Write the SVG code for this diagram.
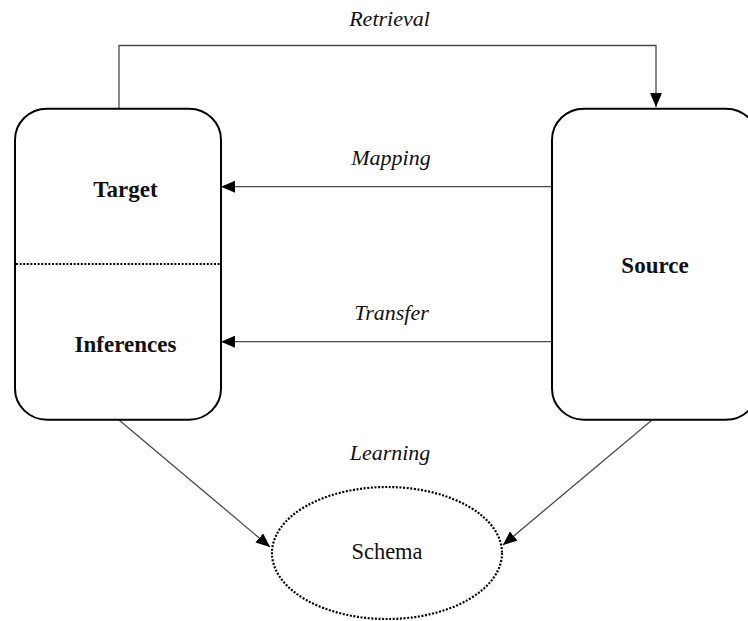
<svg xmlns="http://www.w3.org/2000/svg" width="748" height="621" viewBox="0 0 748 621">
  <style>
    .box { fill: #ffffff; stroke: #000000; stroke-width: 2; }
    .dotted { fill: none; stroke: #000000; stroke-width: 2.2; stroke-dasharray: 2 1.6; }
    .conn { fill: none; stroke: #4a4a4a; stroke-width: 1.3; }
    text { font-family: 'Liberation Serif', 'Times New Roman', Times, serif; font-size: 22px; fill: #111111; text-anchor: middle; }
    .title { font-weight: bold; font-size: 23px; }
    .label { font-style: italic; }
    .plain { font-size: 22.5px; }
  </style>
  <defs>
    <marker id="arrow" viewBox="0 0 14 12" refX="14" refY="6" markerWidth="14" markerHeight="12" markerUnits="userSpaceOnUse" orient="auto">
      <path d="M0,0 L14,6 L0,12 z" fill="#000000"/>
    </marker>
  </defs>
  <rect width="748" height="621" fill="#ffffff"/>

  <!-- connectors: retrieval, mapping, transfer, learning -->
  <g id="connectors">
    <path class="conn" d="M119,108.7 V45.5 H656 V107" marker-end="url(#arrow)"/>
    <path class="conn" d="M552,186.7 H221" marker-end="url(#arrow)"/>
    <path class="conn" d="M552,341.7 H221" marker-end="url(#arrow)"/>
    <path class="conn" d="M119,420 L270,547" marker-end="url(#arrow)"/>
    <path class="conn" d="M652,420 L503,545" marker-end="url(#arrow)"/>
  </g>

  <g id="labels">
    <text class="label" x="389.5" y="26">Retrieval</text>
    <text class="label" x="391" y="165">Mapping</text>
    <text class="label" x="391.5" y="320">Transfer</text>
    <text class="label" x="390" y="460">Learning</text>
  </g>

  <g id="target">
    <rect class="box" x="15" y="108.7" width="206" height="311" rx="32" ry="31"/>
    <line class="dotted" x1="16" y1="264" x2="220" y2="264"/>
    <text class="title" x="125.5" y="197">Target</text>
    <text class="title" x="125.5" y="352">Inferences</text>
  </g>

  <g id="source">
    <rect class="box" x="552" y="108.7" width="206" height="311" rx="32" ry="31"/>
    <text class="title" x="655" y="273">Source</text>
  </g>

  <g id="schema">
    <ellipse class="dotted" cx="387" cy="553" rx="115" ry="66"/>
    <text class="plain" x="387" y="559">Schema</text>
  </g>
</svg>
